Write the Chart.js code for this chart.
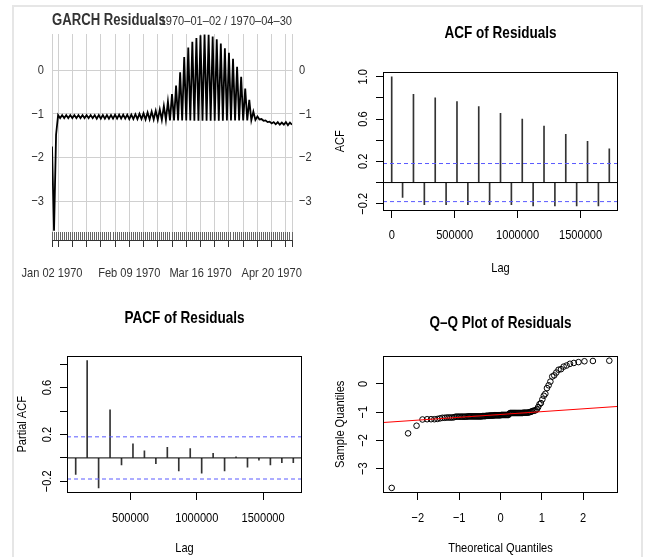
<!DOCTYPE html>
<html>
<head>
<meta charset="utf-8">
<script src="https://cdn.jsdelivr.net/npm/chart.js@4.4.1/dist/chart.umd.min.js"></script>
<style>
  body { margin: 0; background: #fff; }
  #frame { position: absolute; left: 12px; top: 5px; width: 627px; height: 600px; border: 2px solid #e6e6e6; }
  canvas { position: absolute; }
</style>
</head>
<body>
<div id="frame"></div>
<canvas id="resid" width="325" height="280" style="left:0;top:0"></canvas>
<canvas id="acf" width="326" height="280" style="left:325px;top:0"></canvas>
<canvas id="pacf" width="325" height="277" style="left:0;top:280px"></canvas>
<canvas id="qq" width="326" height="277" style="left:325px;top:280px"></canvas>
<script>
// daily residuals, 1970-01-02 .. 1970-04-30 (index = days since Jan 02)
const residuals = [
  -1.75, -3.68, -1.48, -1.03, -1.10, -1.03, -1.10, -1.03, -1.10, -1.03,
  -1.10, -1.03, -1.10, -1.03, -1.10, -1.03, -1.10, -1.03, -1.10, -1.03,
  -1.10, -1.03, -1.11, -1.03, -1.11, -1.03, -1.11, -1.03, -1.11, -1.03,
  -1.11, -1.02, -1.11, -1.02, -1.11, -1.02, -1.11, -1.02, -1.12, -1.02,
  -1.12, -1.01, -1.12, -1.00, -1.12, -0.99, -1.13, -0.97, -1.13, -0.95,
  -1.13, -0.93, -1.14, -0.90, -1.14, -0.82, -1.14, -0.72, -1.15, -0.55,
  -1.15, -0.35, -1.15, -0.05, -1.15, 0.30, -1.15, 0.52, -1.15, 0.65,
  -1.16, 0.74, -1.16, 0.80, -1.16, 0.82, -1.16, 0.81, -1.16, 0.77,
  -1.16, 0.71, -1.16, 0.61, -1.16, 0.50, -1.15, 0.40, -1.15, 0.26,
  -1.15, 0.08, -1.15, -0.15, -1.15, -0.42, -1.15, -0.68, -1.15, -0.95,
  -1.14, -1.06, -1.13, -1.12, -1.16, -1.15, -1.19, -1.18, -1.22, -1.19,
  -1.24, -1.19, -1.25, -1.20, -1.25, -1.19, -1.26, -1.20, -1.25
];
const residRange = [-3.71, 0.83];
const residYTicks = [-3, -2, -1, 0];
const weekGridDays = [0, 3, 10, 17, 24, 31, 38, 45, 52, 59, 66, 73, 80, 87, 94, 101, 108, 115, 118];
const dateLabelDays = [0, 38, 73, 108];
const dateLabels = ['Jan 02 1970', 'Feb 09 1970', 'Mar 16 1970', 'Apr 20 1970'];

// ACF / PACF (lag in seconds)
const acfLags = [0, 86400, 172800, 259200, 345600, 432000, 518400, 604800, 691200, 777600, 864000,
  950400, 1036800, 1123200, 1209600, 1296000, 1382400, 1468800, 1555200, 1641600, 1728000];
const acfValues = [1.0, -0.14, 0.835, -0.21, 0.80, -0.21, 0.765, -0.21, 0.717, -0.21, 0.654,
  -0.21, 0.60, -0.22, 0.533, -0.22, 0.457, -0.22, 0.39, -0.22, 0.32];
const pacfLags = acfLags.slice(1);
const pacfValues = [-0.14, 0.83, -0.256, 0.41, -0.06, 0.12, 0.06, -0.05, 0.09, -0.11,
  0.08, -0.13, 0.04, -0.11, 0.01, -0.08, -0.02, -0.06, -0.04, -0.04];
const ciLevel = 0.18;
const acfYTicks = [-0.2, 0, 0.2, 0.4, 0.6, 0.8, 1.0];
const acfYLabels = [-0.2, 0.2, 0.6, 1.0];
const pacfYTicks = [-0.2, 0, 0.2, 0.4, 0.6, 0.8];
const pacfYLabels = [-0.2, 0.2, 0.6];
const acfXTicks = [0, 500000, 1000000, 1500000];
const pacfXTicks = [500000, 1000000, 1500000];
const qqXTicks = [-2, -1, 0, 1, 2];
const qqYTicks = [-3, -2, -1, 0];

const FONT = "'Liberation Sans', Arial, sans-serif";
const CI_BLUE = '#5a5aff';
Chart.defaults.font.family = FONT;
Chart.defaults.color = '#000';

// the reference uses a narrow Helvetica; squeeze every text run horizontally
function narrowCtx(id, k) {
  const ctx = document.getElementById(id).getContext('2d');
  const orig = ctx.fillText.bind(ctx);
  ctx.fillText = function (t, x, y) {
    this.save();
    this.translate(x, y);
    this.scale(k, 1);
    orig(t, 0, 0);
    this.restore();
  };
  return ctx;
}

const minus = s => String(s).replace('-', '\u2212');
const fmt1 = v => minus(v.toFixed(1));
const pad4 = (lo, hi) => [lo - (hi - lo) * 0.04, hi + (hi - lo) * 0.04];
// fixed axis size, and no extra room for overhanging labels
const fixH = h => s => { s.height = h; s.paddingLeft = 0; s.paddingRight = 0; };
const fixW = w => s => { s.width = w; s.paddingTop = 0; s.paddingBottom = 0; };

// R style box around the plot region
const rBox = {
  id: 'rBox',
  afterDraw(chart) {
    const {ctx, chartArea: a} = chart;
    ctx.save();
    ctx.strokeStyle = '#000';
    ctx.lineWidth = 1;
    ctx.strokeRect(Math.round(a.left) + 0.5, Math.round(a.top) + 0.5,
      Math.round(a.right - a.left) - 1, Math.round(a.bottom - a.top) - 1);
    ctx.restore();
  }
};

// rotated y tick labels, like R's default las=0
const rotY = {
  id: 'rotY',
  afterDraw(chart, args, opts) {
    if (!opts.values) return;
    const {ctx, chartArea, scales} = chart;
    ctx.save();
    ctx.font = '13.5px ' + FONT;
    ctx.fillStyle = '#000';
    ctx.textAlign = 'center';
    ctx.textBaseline = 'middle';
    opts.values.forEach(v => {
      ctx.save();
      ctx.translate(chartArea.left - 20, scales.y.getPixelForValue(v));
      ctx.rotate(-Math.PI / 2);
      ctx.fillText(opts.format(v), 0, 0);
      ctx.restore();
    });
    ctx.restore();
  }
};

const rangeText = {
  id: 'rangeText',
  afterDraw(chart, args, opts) {
    if (!opts.text) return;
    const ctx = chart.ctx;
    ctx.save();
    ctx.font = '13.5px ' + FONT;
    ctx.fillStyle = '#333';
    ctx.textAlign = 'right';
    ctx.textBaseline = 'middle';
    ctx.fillText(opts.text, chart.chartArea.right, opts.y);
    ctx.restore();
  }
};

// ---- GARCH residuals (xts style) ----
new Chart(narrowCtx('resid', 0.82), {
  type: 'line',
  data: {
    datasets: [{
      data: residuals.map((v, i) => ({x: i, y: v})),
      borderColor: '#000',
      borderWidth: 1.8,
      pointRadius: 0,
      tension: 0
    }]
  },
  options: {
    responsive: false,
    animation: false,
    plugins: {
      legend: {display: false},
      tooltip: {enabled: false},
      title: {
        display: true, text: 'GARCH Residuals', align: 'start', fullSize: false,
        color: '#333', font: {size: 16, weight: 'bold'}, padding: {top: 11.4, bottom: 3.4}
      },
      rangeText: {text: '1970\u201301\u201302 / 1970\u201304\u201330', y: 21}
    },
    scales: {
      xMinor: {
        type: 'linear', position: 'bottom', min: 0, max: residuals.length - 1, weight: 0,
        afterBuildTicks: s => { s.ticks = residuals.map((v, i) => ({value: i})); },
        grid: {drawOnChartArea: false, tickLength: 8, tickColor: '#666'},
        border: {display: false},
        ticks: {display: false},
        afterFit: fixH(8)
      },
      x: {
        type: 'linear', position: 'bottom', min: 0, max: residuals.length - 1, weight: 1,
        afterBuildTicks: s => { s.ticks = weekGridDays.map(v => ({value: v})); },
        grid: {color: '#d0d0d0', tickColor: '#333', tickLength: 7},
        border: {display: true, color: '#333'},
        ticks: {
          autoSkip: false, maxRotation: 0, padding: 18, color: '#333', font: {size: 13.5},
          callback: v => { const k = dateLabelDays.indexOf(v); return k < 0 ? '' : dateLabels[k]; }
        },
        afterFit: fixH(40)
      },
      y: {
        position: 'left', min: residRange[0], max: residRange[1],
        afterBuildTicks: s => { s.ticks = residYTicks.map(v => ({value: v})); },
        grid: {color: '#d0d0d0', drawTicks: false},
        border: {display: false},
        ticks: {padding: 8, color: '#333', font: {size: 13.5}, callback: v => minus(v)},
        afterFit: fixW(52)
      },
      y2: {
        position: 'right', min: residRange[0], max: residRange[1],
        afterBuildTicks: s => { s.ticks = residYTicks.map(v => ({value: v})); },
        grid: {display: false, drawTicks: false},
        border: {display: false},
        ticks: {padding: 7, color: '#333', font: {size: 13.5}, callback: v => minus(v)},
        afterFit: fixW(33)
      }
    }
  },
  plugins: [rangeText]
});

// ---- helper for the base-R style panels ----
function rPanel(id, o) {
  return new Chart(narrowCtx(id, 0.82), {
    type: o.type,
    data: {datasets: o.datasets},
    options: {
      responsive: false,
      animation: false,
      layout: {padding: {right: o.padRight}},
      plugins: {
        legend: {display: false},
        tooltip: {enabled: false},
        title: {
          display: true, text: o.title, fullSize: false, color: '#000',
          font: {size: 16.5, weight: 'bold'}, padding: o.titlePad
        },
        rotY: {values: o.yLabels, format: o.yFmt}
      },
      scales: {
        x: {
          type: 'linear', min: o.xRange[0], max: o.xRange[1], offset: false,
          afterBuildTicks: s => { s.ticks = o.xTicks.map(v => ({value: v})); },
          grid: {drawOnChartArea: false, offset: false, tickLength: 7, tickColor: '#000'},
          border: {display: false},
          ticks: {autoSkip: false, maxRotation: 0, padding: o.xTickPad, color: '#000',
            font: {size: 13.5}, callback: v => minus(v)},
          title: {display: true, text: o.xTitle, color: '#000', font: {size: 13.5},
            padding: {top: 0, bottom: o.xTitlePad}},
          afterFit: fixH(o.xHeight)
        },
        y: {
          type: 'linear', min: o.yRange[0], max: o.yRange[1],
          afterBuildTicks: s => { s.ticks = o.yTicks.map(v => ({value: v})); },
          grid: {drawOnChartArea: false, tickLength: 7, tickColor: '#000'},
          border: {display: false},
          ticks: {display: false},
          title: {display: true, text: o.yTitle, color: '#000', font: {size: 13.5},
            padding: {top: o.yTitlePad, bottom: 0}},
          afterFit: fixW(o.yWidth)
        }
      }
    },
    plugins: [rBox, rotY]
  });
}

function hLine(y, range, color, dash) {
  return {
    type: 'line',
    data: [{x: range[0], y: y}, {x: range[1], y: y}],
    borderColor: color, borderWidth: 1, borderDash: dash || [],
    pointRadius: 0, fill: false, order: 0
  };
}

function spikes(lags, vals) {
  return {
    type: 'bar',
    data: lags.map((l, i) => ({x: l, y: vals[i]})),
    backgroundColor: '#333', borderWidth: 0, barThickness: 1, order: 1
  };
}

// ---- ACF ----
const acfX = pad4(acfLags[0], acfLags[acfLags.length - 1]);
const acfY = pad4(Math.min(...acfValues, -ciLevel), Math.max(...acfValues, ciLevel));
rPanel('acf', {
  type: 'bar',
  title: 'ACF of Residuals', titlePad: {top: 23.9, bottom: 27.9},
  xTitle: 'Lag', yTitle: 'ACF',
  xRange: acfX, yRange: acfY, xTicks: acfXTicks, yTicks: acfYTicks,
  yLabels: acfYLabels, yFmt: fmt1,
  padRight: 33, yWidth: 58, xHeight: 69, xTickPad: 8.9, xTitlePad: 3.9, yTitlePad: 6.9,
  datasets: [
    spikes(acfLags, acfValues),
    hLine(0, acfX, '#000'),
    hLine(ciLevel, acfX, CI_BLUE, [4, 3]),
    hLine(-ciLevel, acfX, CI_BLUE, [4, 3])
  ]
});

// ---- PACF ----
const pacfX = pad4(pacfLags[0], pacfLags[pacfLags.length - 1]);
const pacfY = pad4(Math.min(...pacfValues, -ciLevel), Math.max(...pacfValues, ciLevel));
rPanel('pacf', {
  type: 'bar',
  title: 'PACF of Residuals', titlePad: {top: 28.4, bottom: 27.4},
  xTitle: 'Lag', yTitle: 'Partial ACF',
  xRange: pacfX, yRange: pacfY, xTicks: pacfXTicks, yTicks: pacfYTicks,
  yLabels: pacfYLabels, yFmt: fmt1,
  padRight: 23, yWidth: 67, xHeight: 64, xTickPad: 9.9, xTitlePad: 0.9, yTitlePad: 13.9,
  datasets: [
    spikes(pacfLags, pacfValues),
    hLine(0, pacfX, '#000'),
    hLine(ciLevel, pacfX, CI_BLUE, [4, 3]),
    hLine(-ciLevel, pacfX, CI_BLUE, [4, 3])
  ]
});

// ---- Normal Q-Q ----
function qnorm(p) {
  const a = [-3.969683028665376e+01, 2.209460984245205e+02, -2.759285104469687e+02,
    1.383577518672690e+02, -3.066479806614716e+01, 2.506628277459239e+00];
  const b = [-5.447609879822406e+01, 1.615858368580409e+02, -1.556989798598866e+02,
    6.680131188771972e+01, -1.328068155288572e+01];
  const c = [-7.784894002430293e-03, -3.223964580411365e-01, -2.400758277161838e+00,
    -2.549732539343734e+00, 4.374664141464968e+00, 2.938163982698783e+00];
  const d = [7.784695709041462e-03, 3.224671290700398e-01, 2.445134137142996e+00,
    3.754408661907416e+00];
  const tail = q => (((((c[0] * q + c[1]) * q + c[2]) * q + c[3]) * q + c[4]) * q + c[5]) /
    ((((d[0] * q + d[1]) * q + d[2]) * q + d[3]) * q + 1);
  if (p < 0.02425) return tail(Math.sqrt(-2 * Math.log(p)));
  if (p > 1 - 0.02425) return -tail(Math.sqrt(-2 * Math.log(1 - p)));
  const q = p - 0.5, r = q * q;
  return (((((a[0] * r + a[1]) * r + a[2]) * r + a[3]) * r + a[4]) * r + a[5]) * q /
    (((((b[0] * r + b[1]) * r + b[2]) * r + b[3]) * r + b[4]) * r + 1);
}
function quantile7(sorted, p) {
  const h = (sorted.length - 1) * p, lo = Math.floor(h);
  return sorted[lo] + (h - lo) * (sorted[lo + 1] - sorted[lo]);
}

const sortedResid = residuals.slice().sort((a, b) => a - b);
const nRes = sortedResid.length;
const theoQ = sortedResid.map((v, i) => qnorm((i + 0.5) / nRes));
const qqX = pad4(theoQ[0], theoQ[nRes - 1]);
const qqY = pad4(sortedResid[0], sortedResid[nRes - 1]);
const q1 = quantile7(sortedResid, 0.25), q3 = quantile7(sortedResid, 0.75);
const slope = (q3 - q1) / (qnorm(0.75) - qnorm(0.25));
const intercept = q1 - slope * qnorm(0.25);

rPanel('qq', {
  type: 'scatter',
  title: 'Q\u2013Q Plot of Residuals', titlePad: {top: 33.1, bottom: 22.7},
  xTitle: 'Theoretical Quantiles', yTitle: 'Sample Quantiles',
  xRange: qqX, yRange: qqY, xTicks: qqXTicks, yTicks: qqYTicks,
  yLabels: qqYTicks, yFmt: v => minus(v),
  padRight: 33, yWidth: 58, xHeight: 64, xTickPad: 9.9, xTitlePad: 0.9, yTitlePad: 6.9,
  datasets: [
    {
      type: 'scatter',
      data: sortedResid.map((v, i) => ({x: theoQ[i], y: v})),
      pointStyle: 'circle', pointRadius: 2.8, borderWidth: 1,
      borderColor: '#000', backgroundColor: 'rgba(0,0,0,0)', order: 1
    },
    {
      type: 'line',
      data: [{x: qqX[0], y: intercept + slope * qqX[0]}, {x: qqX[1], y: intercept + slope * qqX[1]}],
      borderColor: '#ff0000', borderWidth: 1, pointRadius: 0, fill: false, order: 0
    }
  ]
});
</script>
</body>
</html>
